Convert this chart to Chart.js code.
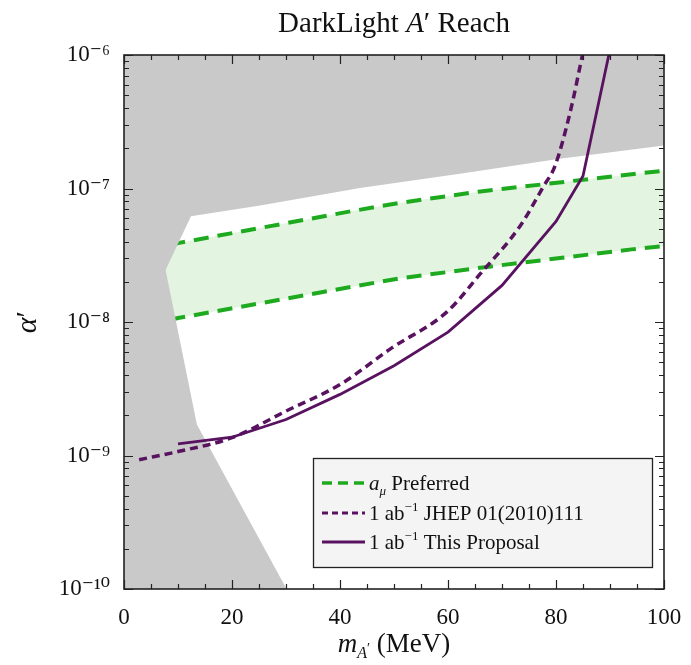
<!doctype html>
<html lang="en">
<head>
<meta charset="utf-8">
<script src="https://cdn.jsdelivr.net/npm/chart.js"></script>
<style>
  body { margin: 0; background: #fff; }
</style>
</head>
<body>
<canvas id="reachChart" width="691" height="665"></canvas>
<script>
// excluded region, upper edge (gray above it) and lower-left edge (gray below it)
var grayTopX = [0, 7.7, 12.4, 25.2, 43.7, 62.2, 80.7, 100];
var grayTopY = [1.6e-8, 2.45e-8, 6.2e-8, 7.45e-8, 1.01e-7, 1.29e-7, 1.67e-7, 2.1e-7];
var grayLowX = [0, 7.7, 13.5, 30.1];
var grayLowY = [4e-8, 2.45e-8, 1.71e-9, 1e-10];

// a_mu preferred band edges
var bandX     = [0, 10, 42, 51, 66, 94, 100];
var bandUpper = [3.05e-8, 3.9e-8, 6.75e-8, 7.8e-8, 9.5e-8, 1.28e-7, 1.36e-7];
var bandLower = [8.4e-9, 1.07e-8, 1.83e-8, 2.12e-8, 2.55e-8, 3.5e-8, 3.7e-8];

// 1 ab^-1 JHEP 01(2010)111 (dashed)
var jhepX = [2.8, 10, 20, 30, 40, 49.6, 59.8, 66, 73.3, 77.7, 79.8, 82.6, 84.9];
var jhepY = [9.3e-10, 1.07e-9, 1.36e-9, 2.15e-9, 3.4e-9, 6.4e-9, 1.19e-8, 2.3e-8, 5.2e-8, 1.04e-7, 1.47e-7, 3.7e-7, 1e-6];

// 1 ab^-1 this proposal (solid)
var propX = [10, 20, 30, 40, 50, 60, 70, 80, 85, 90];
var propY = [1.22e-9, 1.37e-9, 1.86e-9, 2.87e-9, 4.7e-9, 8.4e-9, 1.88e-8, 5.66e-8, 1.24e-7, 1.1e-6];

var xTicks = [0, 20, 40, 60, 80, 100];
var yDecades = [-10, -9, -8, -7, -6];

var GREEN = 'rgb(30,170,30)';
var PURPLE = 'rgb(88,18,96)';
var GRAY = 'rgb(201,201,201)';
var SERIF = '"Liberation Serif", "DejaVu Serif", serif';

function pts(xs, ys) {
    return xs.map(function(x, i) { return {x: x, y: ys[i]}; });
}

var SUP = {'-': '⁻', '0': '⁰', '1': '¹', '2': '²', '3': '³', '4': '⁴', '5': '⁵', '6': '⁶', '7': '⁷', '8': '⁸', '9': '⁹'};
function sup(n) {
    return String(n).split('').map(function(c) { return SUP[c]; }).join('');
}

// draw a list of [text, font, dy] pieces one after another
function runs(ctx, parts, x, y, align) {
    var w = 0;
    parts.forEach(function(p) { ctx.font = p[1]; w += ctx.measureText(p[0]).width; });
    var cx = align === 'center' ? x - w / 2 : x;
    ctx.textAlign = 'left';
    parts.forEach(function(p) {
        ctx.font = p[1];
        ctx.fillText(p[0], cx, y + (p[2] || 0));
        cx += ctx.measureText(p[0]).width;
    });
}

var framePlugin = {
    id: 'frame',
    beforeDraw: function(chart) {
        var ctx = chart.ctx;
        ctx.save();
        ctx.fillStyle = '#fff';
        ctx.fillRect(0, 0, chart.width, chart.height);
        ctx.restore();
    },
    afterDatasetsDraw: function(chart) {
        var ctx = chart.ctx, a = chart.chartArea;
        var xs = chart.scales.x, ys = chart.scales.y;
        ctx.save();
        ctx.strokeStyle = '#222';
        ctx.lineWidth = 1.2;
        ctx.beginPath();
        for (var v = 0; v <= 100; v += 5) {
            var px = Math.round(xs.getPixelForValue(v)) + 0.5;
            var len = v % 20 === 0 ? 9 : 5;
            ctx.moveTo(px, a.bottom); ctx.lineTo(px, a.bottom - len);
            ctx.moveTo(px, a.top); ctx.lineTo(px, a.top + len);
        }
        for (var e = -10; e <= -6; e++) {
            for (var m = 1; m <= 9; m++) {
                if (e === -6 && m > 1) break;
                var py = Math.round(ys.getPixelForValue(m * Math.pow(10, e))) + 0.5;
                var l = m === 1 ? 9 : 5;
                ctx.moveTo(a.left, py); ctx.lineTo(a.left + l, py);
                ctx.moveTo(a.right, py); ctx.lineTo(a.right - l, py);
            }
        }
        ctx.stroke();
        ctx.lineWidth = 1.6;
        ctx.strokeRect(a.left, a.top, a.right - a.left, a.bottom - a.top);

        // legend
        var bx = 313, by = 458, bw = 339, bh = 109;
        ctx.fillStyle = '#f4f4f4';
        ctx.fillRect(bx, by, bw, bh);
        ctx.strokeStyle = '#222';
        ctx.lineWidth = 1.3;
        ctx.strokeRect(bx + 0.5, by + 0.5, bw, bh);
        var rows = [
            {y: 483, color: GREEN, dash: [10, 6], w: 3.5,
             text: [['a', 'italic 21px ' + SERIF], ['μ', 'italic 13px ' + SERIF, 5], [' Preferred', '21px ' + SERIF]]},
            {y: 513, color: PURPLE, dash: [6, 4], w: 3,
             text: [['1 ab', '21px ' + SERIF], ['−1', '13px ' + SERIF, -9], [' JHEP 01(2010)111', '21px ' + SERIF]]},
            {y: 542, color: PURPLE, dash: [], w: 3,
             text: [['1 ab', '21px ' + SERIF], ['−1', '13px ' + SERIF, -9], [' This Proposal', '21px ' + SERIF]]}
        ];
        rows.forEach(function(r) {
            ctx.strokeStyle = r.color;
            ctx.lineWidth = r.w;
            ctx.setLineDash(r.dash);
            ctx.beginPath();
            ctx.moveTo(322, r.y);
            ctx.lineTo(365, r.y);
            ctx.stroke();
            ctx.setLineDash([]);
            ctx.fillStyle = '#111';
            ctx.textBaseline = 'alphabetic';
            runs(ctx, r.text, 369, r.y + 7, 'left');
        });
        ctx.restore();
    },
    afterDraw: function(chart) {
        var ctx = chart.ctx;
        ctx.save();
        ctx.fillStyle = '#111';
        ctx.textBaseline = 'alphabetic';
        runs(ctx, [['DarkLight ', '29px ' + SERIF], ['A', 'italic 29px ' + SERIF], ['′ Reach', '29px ' + SERIF]], 394, 32, 'center');
        runs(ctx, [['m', 'italic 27px ' + SERIF], ['A', 'italic 16px ' + SERIF, 6], ['′', '14px ' + SERIF, 1], [' (MeV)', '27px ' + SERIF]], 394, 652, 'center');
        ctx.translate(36, 322);
        ctx.rotate(-Math.PI / 2);
        runs(ctx, [['α', 'italic 30px ' + SERIF], ['′', '30px ' + SERIF]], 0, 0, 'center');
        ctx.restore();
    }
};

var lineBase = {pointRadius: 0, pointHoverRadius: 0, borderCapStyle: 'butt'};

var datasets = [
    Object.assign({label: 'This Proposal', data: pts(propX, propY), borderColor: PURPLE, borderWidth: 2.8, fill: false, order: 0}, lineBase),
    Object.assign({label: 'JHEP', data: pts(jhepX, jhepY), borderColor: PURPLE, borderWidth: 3.5, borderDash: [8, 5], cubicInterpolationMode: 'monotone', fill: false, order: 1}, lineBase),
    Object.assign({label: 'excluded top', data: pts(grayTopX, grayTopY), borderWidth: 0, borderColor: GRAY, backgroundColor: GRAY, fill: 'end', order: 2}, lineBase),
    Object.assign({label: 'excluded low', data: pts(grayLowX, grayLowY), borderWidth: 0, borderColor: GRAY, backgroundColor: GRAY, fill: 'start', order: 3}, lineBase),
    Object.assign({label: 'band upper', data: pts(bandX, bandUpper), borderColor: GREEN, borderWidth: 4, borderDash: [15, 9], fill: false, order: 4}, lineBase),
    Object.assign({label: 'band lower', data: pts(bandX, bandLower), borderColor: GREEN, borderWidth: 4, borderDash: [15, 9], backgroundColor: 'rgb(227,244,225)', fill: 4, order: 5}, lineBase)
];

var ctx = document.getElementById('reachChart').getContext('2d');
window.reachChart = new Chart(ctx, {
    type: 'line',
    data: {datasets: datasets},
    options: {
        responsive: false,
        animation: false,
        layout: {padding: {top: 55, right: 27, left: 0, bottom: 0}},
        plugins: {legend: {display: false}, tooltip: {enabled: false}, title: {display: false}},
        scales: {
            x: {
                type: 'linear', min: 0, max: 100,
                grid: {display: false}, border: {display: false},
                afterBuildTicks: function(s) { s.ticks = xTicks.map(function(v) { return {value: v}; }); },
                ticks: {color: '#111', font: {family: SERIF, size: 23}, padding: 7, maxRotation: 0},
                afterFit: function(s) { s.height = 76; }
            },
            y: {
                type: 'logarithmic', min: 1e-10, max: 1e-6,
                grid: {display: false}, border: {display: false},
                afterBuildTicks: function(s) { s.ticks = yDecades.map(function(e) { return {value: Math.pow(10, e)}; }); },
                ticks: {
                    color: '#111', font: {family: SERIF, size: 23}, padding: 6, autoSkip: false,
                    callback: function(v) { return '10' + sup(Math.round(Math.log10(v))); }
                },
                afterFit: function(s) { s.width = 124; }
            }
        }
    },
    plugins: [framePlugin]
});
</script>
</body>
</html>
